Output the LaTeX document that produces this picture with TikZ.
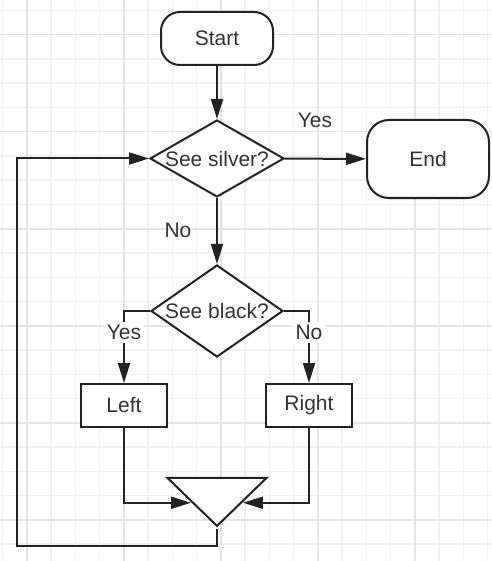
\documentclass[tikz,border=0pt]{standalone}
\usepackage{fontspec}
\setmainfont{Liberation Sans}
\usetikzlibrary{shapes.geometric,arrows.meta}

\definecolor{gridminor}{HTML}{F0F0F0}
\definecolor{gridmajor}{HTML}{E4E4E4}
\definecolor{ink}{HTML}{222222}
\definecolor{txt}{HTML}{333333}

\begin{document}
\begin{tikzpicture}[x=1pt,y=-1pt,
  every node/.style={font=\fontsize{21}{25}\selectfont, text=txt},
  shp/.style={draw=ink, line width=2pt, fill=white, inner sep=0pt},
  term/.style={shp, rectangle, rounded corners=19pt},
  dec/.style={shp, diamond},
  act/.style={shp, rectangle, minimum width=86pt, minimum height=43pt},
  merge/.style={shp, isosceles triangle, isosceles triangle stretches,
    shape border rotate=270, minimum width=99pt, minimum height=48pt},
  arr/.style={draw=ink, line width=2pt, -{Triangle[length=20pt,width=12pt]}},
  lbl/.style={fill=white, inner sep=3pt}]
\useasboundingbox (0,0) rectangle (491,561);
\fill[white] (0,0) rectangle (491,561);
% grid
\foreach \k in {0,...,20} {
  \pgfmathsetmacro\gx{2.7+\k*24.25}
  \draw[gridminor, line width=1.5pt] (\gx,0) -- (\gx,561);
}
\foreach \k in {0,...,22} {
  \pgfmathsetmacro\gy{10.5+\k*24.25}
  \draw[gridminor, line width=1.5pt] (0,\gy) -- (491,\gy);
}
\foreach \k in {1,5,...,17} {
  \pgfmathsetmacro\gx{2.7+\k*24.25}
  \draw[gridmajor, line width=1.5pt] (\gx,0) -- (\gx,561);
}
\foreach \k in {1,5,...,21} {
  \pgfmathsetmacro\gy{10.5+\k*24.25}
  \draw[gridmajor, line width=1.5pt] (0,\gy) -- (491,\gy);
}

% shapes
\node[term, minimum width=112pt, minimum height=53pt] (start) at (217,38.5) {Start};
\node[dec, minimum width=134pt, minimum height=77pt, label=center:{See silver?}] (silver) at (217,158.5) {};
\node[term, rounded corners=22pt, minimum width=122pt, minimum height=78pt] (stop) at (428,159) {End};
\node[dec, minimum width=132pt, minimum height=92pt, label=center:{See black?}] (black) at (217,311) {};
\node[act] (goleft) at (124,405.5) {Left};
\node[act] (goright) at (309,405.5) {Right};
\node[merge] (join) at (217,498) {};
\coordinate (loop) at (17,546);

% labels
\node (yes1) at (315,120) {Yes};
\node (no1) at (178,230) {No};

% connectors
\draw[arr] (start) -- (silver);
\draw[arr] (silver) -- (stop);
\draw[arr] (silver) -- (black);
\draw[arr] (black.west) -| node[lbl, pos=0.65] (yes2) {Yes} (goleft.north);
\draw[arr] (black.east) -| node[lbl, pos=0.65] (no2) {No} (goright.north);
\draw[arr] (goleft.south) |- (join.right side);
\draw[arr] (goright.south) |- (join.left side);
\draw[arr] (join.apex) |- (loop) |- (silver.west);
\end{tikzpicture}
\end{document}
